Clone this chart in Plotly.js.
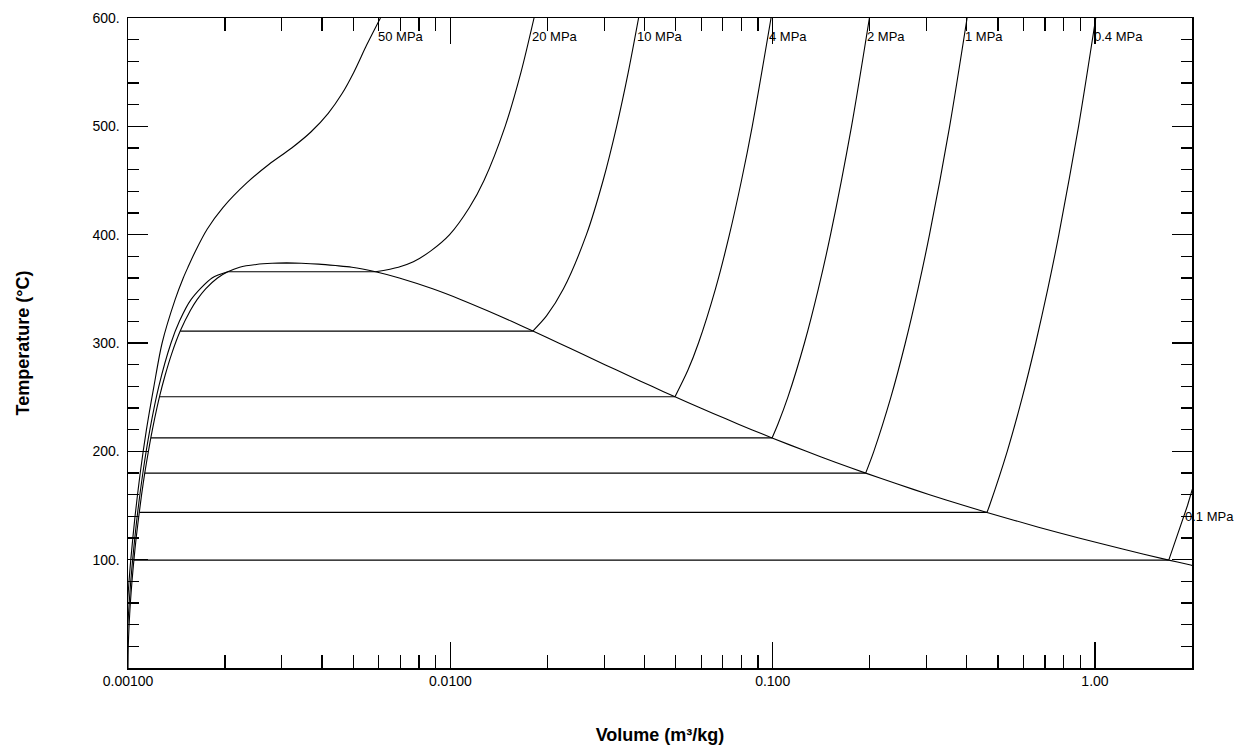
<!DOCTYPE html>
<html>
<head>
<meta charset="utf-8">
<script src="https://cdn.plot.ly/plotly-3.0.1.min.js"></script>
<style>
html,body{margin:0;padding:0;background:#fff;}
#chart{width:1253px;height:746px;}
</style>
</head>
<body>
<div id="chart"></div>
<script>
// Saturation dome: liquid side (T, v_f) and vapour side (T, v_g)
const liqT = [0.01, 20, 40, 60, 80, 99.61, 120, 143.61, 160, 179.88, 200, 212.38, 230, 250.35, 270, 290, 311.0, 330, 340, 350, 360, 365.75, 370, 372.5, 373.6, 373.95];
const liqV = [0.0010002, 0.001002, 0.001008, 0.001017, 0.001029, 0.001043, 0.001060, 0.001084, 0.001102, 0.001127, 0.001157, 0.001177, 0.001209, 0.001252, 0.001303, 0.001366, 0.001452, 0.001561, 0.001638, 0.001741, 0.001895, 0.002040, 0.00222, 0.00250, 0.00280, 0.003106];
const vapT = [373.95, 373.6, 372.8, 371.5, 370, 365.75, 360, 350, 340, 330, 320, 311.0, 300, 290, 280, 270, 260, 250.35, 240, 230, 220, 212.38, 200, 190, 179.88, 170, 160, 150, 143.61, 130, 120, 110, 99.61, 95, 94];
const vapV = [0.003106, 0.00345, 0.00390, 0.00440, 0.00495, 0.00586, 0.006945, 0.008813, 0.01080, 0.01299, 0.01549, 0.01803, 0.02167, 0.02557, 0.03016, 0.03565, 0.04220, 0.04978, 0.05975, 0.07159, 0.08609, 0.09959, 0.12721, 0.15649, 0.19436, 0.24259, 0.30678, 0.39248, 0.46242, 0.66808, 0.89133, 1.2094, 1.6941, 1.9808, 2.04];

// Horizontal (two-phase) segments of the isobars
const tieT  = [99.61, 143.61, 179.88, 212.38, 250.35, 311.0, 365.75];
const tieVf = [0.001043, 0.001084, 0.001127, 0.001177, 0.001252, 0.001452, 0.002040];
const tieVg = [1.6941, 0.46242, 0.19436, 0.09959, 0.04978, 0.018028, 0.00586];

// Isobars (T in °C, v in m³/kg)
const p50T = [40, 60, 80, 100, 140, 180, 220, 260, 300, 340, 360, 370, 385, 405, 425, 448, 465, 480, 495, 512, 530, 550, 575, 600];
const p50V = [0.0009872, 0.0009962, 0.0010073, 0.0010201, 0.0010515, 0.0010912, 0.0011408, 0.0012034, 0.0012760, 0.0014000, 0.0014838, 0.001535, 0.001620, 0.00176, 0.00197, 0.00234, 0.00274, 0.00322, 0.00370, 0.00418, 0.00461, 0.00502, 0.00550, 0.00607];
const p20LiqT = [20, 40, 60, 80, 100, 140, 180, 220, 260, 300, 320, 340, 360, 365.75];
const p20LiqV = [0.0009928, 0.0009992, 0.0010084, 0.0010199, 0.0010337, 0.0010678, 0.0011120, 0.0011693, 0.0012462, 0.0013596, 0.0014437, 0.0015684, 0.0018226, 0.002040];
const p20T = [365.75, 370, 375, 385, 400, 425, 450, 500, 550, 600];
const p20V = [0.00586, 0.00690, 0.00768, 0.00870, 0.00995, 0.01146, 0.01272, 0.014793, 0.016571, 0.018185];
const p10T = [311.0, 325, 350, 400, 450, 500, 550, 600];
const p10V = [0.018028, 0.019877, 0.022440, 0.026436, 0.029782, 0.032811, 0.035655, 0.038378];
const p4T  = [250.35, 275, 300, 350, 400, 450, 500, 600];
const p4V  = [0.04978, 0.05461, 0.05887, 0.06647, 0.07343, 0.08004, 0.08644, 0.09886];
const p2T  = [212.38, 225, 250, 300, 350, 400, 500, 600];
const p2V  = [0.09959, 0.10381, 0.11150, 0.12551, 0.13860, 0.15122, 0.17568, 0.19962];
const p1T  = [179.88, 200, 250, 300, 350, 400, 500, 600];
const p1V  = [0.19436, 0.20602, 0.23275, 0.25799, 0.28250, 0.30661, 0.35411, 0.40111];
const p04T = [143.61, 150, 200, 250, 300, 350, 400, 500, 600];
const p04V = [0.46242, 0.47088, 0.53434, 0.59520, 0.65489, 0.71395, 0.77265, 0.88936, 1.0056];
const p01T = [99.61, 100, 150, 200];
const p01V = [1.6941, 1.6959, 1.9367, 2.1724];

// Isobar labels
const labelText = ['50 MPa', '20 MPa', '10 MPa', '4 MPa', '2 MPa', '1 MPa', '0.4 MPa', '0.1 MPa'];
const labelV    = [0.00607, 0.018185, 0.038378, 0.09886, 0.19962, 0.40111, 1.0056, 1.93];
const labelT    = [583, 583, 583, 583, 583, 583, 583, 140];

// Axis ticks
const xTickVals = [0.001, 0.01, 0.1, 1];
const xTickText = ['0.00100', '0.0100', '0.100', '1.00'];
const xMinorVals = [0.002,0.003,0.004,0.005,0.006,0.007,0.008,0.009,0.02,0.03,0.04,0.05,0.06,0.07,0.08,0.09,0.2,0.3,0.4,0.5,0.6,0.7,0.8,0.9];
const yTickVals = [100, 200, 300, 400, 500, 600];
const yTickText = ['100.', '200.', '300.', '400.', '500.', '600.'];
const yMinorVals = [20,40,60,80,120,140,160,180,220,240,260,280,320,340,360,380,420,440,460,480,520,540,560,580];

const lineStyle = {color: '#000', width: 1.1};
const traces = [];
function addLine(v, t, smooth) {
  const ln = Object.assign({}, lineStyle);
  if (smooth) { ln.shape = 'spline'; ln.smoothing = 0.8; }
  traces.push({x: v, y: t, type: 'scatter', mode: 'lines', line: ln, hoverinfo: 'skip', showlegend: false});
}
addLine(liqV.concat(vapV), liqT.concat(vapT), true);
for (let i = 0; i < tieT.length; i++) addLine([tieVf[i], tieVg[i]], [tieT[i], tieT[i]], false);
addLine(p50V, p50T, true);
addLine(p20LiqV, p20LiqT, true);
addLine(p20V, p20T, true);
addLine(p10V, p10T, true);
addLine(p4V, p4T, true);
addLine(p2V, p2T, true);
addLine(p1V, p1T, true);
addLine(p04V, p04T, true);
addLine(p01V, p01T, false);

const fontFam = 'Liberation Sans, Arial, sans-serif';
const annotations = labelText.map((txt, i) => ({
  x: Math.log10(labelV[i]), y: labelT[i], xref: 'x', yref: 'y',
  text: txt, showarrow: false, xanchor: 'left', yanchor: 'middle', xshift: -4,
  font: {family: fontFam, size: 13, color: '#000'}
}));

const layout = {
  width: 1253, height: 746,
  margin: {l: 128, r: 61, t: 18, b: 78},
  paper_bgcolor: '#fff', plot_bgcolor: '#fff',
  font: {family: fontFam, size: 14, color: '#000'},
  showlegend: false,
  xaxis: {
    type: 'log', range: [Math.log10(0.001), Math.log10(2.0)],
    tickmode: 'array', tickvals: xTickVals, ticktext: xTickText,
    ticks: 'inside', ticklen: 26, tickwidth: 1.2, tickcolor: '#000',
    minor: {tickmode: 'array', tickvals: xMinorVals, ticks: 'inside', ticklen: 13, tickwidth: 1.2, tickcolor: '#000', showgrid: false},
    showline: true, linecolor: '#000', linewidth: 1.5, mirror: 'allticks',
    showgrid: false, zeroline: false, automargin: false,
    tickfont: {family: fontFam, size: 14, color: '#000'},
    title: {text: 'Volume (m³/kg)', font: {family: fontFam, size: 18, color: '#000', weight: 'bold'}, standoff: 40}
  },
  yaxis: {
    range: [0, 600],
    tickmode: 'array', tickvals: yTickVals, ticktext: yTickText,
    ticks: 'inside', ticklen: 20, tickwidth: 1.2, tickcolor: '#000',
    minor: {tickmode: 'array', tickvals: yMinorVals, ticks: 'inside', ticklen: 11, tickwidth: 1.2, tickcolor: '#000', showgrid: false},
    showline: true, linecolor: '#000', linewidth: 1.5, mirror: 'allticks',
    showgrid: false, zeroline: false, automargin: false, ticklabelstandoff: 4,
    tickfont: {family: fontFam, size: 14, color: '#000'},
    title: {text: 'Temperature (°C)', font: {family: fontFam, size: 18, color: '#000', weight: 'bold'}, standoff: 58}
  },
  annotations: annotations
};

Plotly.newPlot('chart', traces, layout, {displayModeBar: false, staticPlot: true});
</script>
</body>
</html>
